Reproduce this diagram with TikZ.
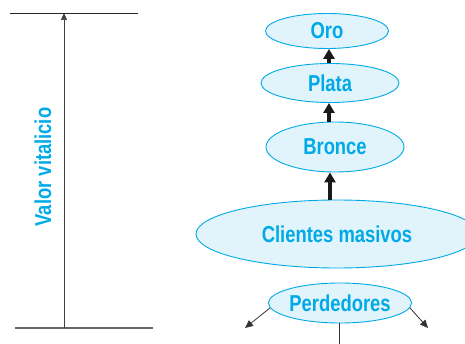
\documentclass[tikz,border=0pt]{standalone}
\usepackage{fontspec}
\newfontfamily\cf{Liberation Sans}[FakeStretch=0.8]
\usetikzlibrary{shapes.geometric,arrows.meta}
\definecolor{cy}{RGB}{0,170,230}
\definecolor{cyfill}{RGB}{225,243,251}
\tikzset{
  oval/.style={ellipse,draw=cy,fill=cyfill,line width=0.9pt,inner sep=0pt,text=cy,font=\cf\bfseries\fontsize{23}{26}\selectfont},
  thick arrow/.style={line width=3.5pt,black!90,-{Triangle[width=11pt,length=10pt]}},
  thin arrow/.style={line width=0.8pt,draw=black!80,-{Triangle[width=7pt,length=8pt]}},
}
\begin{document}
\begin{tikzpicture}[x=1pt,y=-1pt]
\useasboundingbox (0,0) rectangle (465,344);
% left scale
\coordinate (t1) at (10,13); \coordinate (t2) at (138,13);
\coordinate (b1) at (15,328); \coordinate (b2) at (153,328);
\coordinate (vb) at (64,328); \coordinate (vt) at (64,13);
\draw[line width=0.9pt,black!85] (t1) -- (t2);
\draw[line width=1.3pt,black!60] (b1) -- (b2);
\draw[line width=0.7pt,black!75,-{Triangle[width=6pt,length=7pt]}] (vb) -- (vt);
\node[rotate=90,text=cy,font=\cf\bfseries\fontsize{23}{26}\selectfont] (lab) at (43,167) {Valor vitalicio};
% ovals
\node[oval,minimum width=123pt,minimum height=35pt] (oro) at (327,31) {Oro};
\node[oval,minimum width=138pt,minimum height=39pt] (plata) at (330,83) {Plata};
\node[oval,minimum width=138pt,minimum height=50pt] (bronce) at (335,147) {Bronce};
\node[oval,minimum width=282pt,minimum height=68pt] (cm) at (337,234) {Clientes masivos};
\node[oval,minimum width=138pt,minimum height=40pt] (perd) at (340,303) {Perdedores};
\draw[thick arrow] (plata.north -| 329,0) -- (oro.south -| 329,0);
\draw[thick arrow] (bronce.north -| 329,0) -- (plata.south -| 329,0);
\draw[thick arrow] (cm.north -| 330,0) -- (bronce.south -| 330,0);
% perdedores arrows
\coordinate (pl) at (245,328);
\coordinate (pr) at (428,328);
\coordinate (pd) at (339,352);
\draw[thin arrow] (perd.184) -- (pl);
\draw[thin arrow] (perd.-4) -- (pr);
\draw[thin arrow] (perd.south -| pd) -- (pd);
\end{tikzpicture}
\end{document}
